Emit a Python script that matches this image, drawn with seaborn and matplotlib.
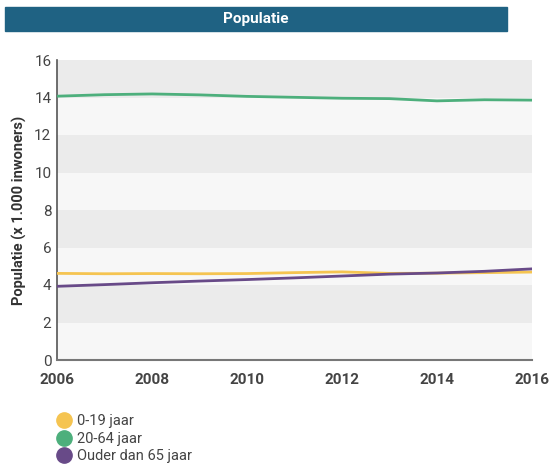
import matplotlib
matplotlib.use("Agg")
import matplotlib.pyplot as plt
import seaborn as sns
import pandas as pd
from matplotlib.lines import Line2D

years = list(range(2006, 2017))
age_0_19 = [4.62, 4.60, 4.61, 4.60, 4.61, 4.66, 4.70, 4.62, 4.63, 4.66, 4.69]
age_20_64 = [14.07, 14.15, 14.19, 14.14, 14.06, 14.01, 13.96, 13.94, 13.82, 13.88, 13.86]
age_65plus = [3.93, 4.02, 4.12, 4.21, 4.29, 4.38, 4.48, 4.58, 4.64, 4.73, 4.86]
series_names = ["0-19 jaar", "20-64 jaar", "Ouder dan 65 jaar"]
colors = ["#f5c451", "#4daf7c", "#684a88"]
yticks = [0, 2, 4, 6, 8, 10, 12, 14, 16]
xticks = [2006, 2008, 2010, 2012, 2014, 2016]
title = "Populatie"
ylabel = "Populatie (x 1.000 inwoners)"

df = pd.DataFrame({
    "jaar": years * 3,
    "waarde": age_0_19 + age_20_64 + age_65plus,
    "groep": [series_names[0]] * len(years) + [series_names[1]] * len(years) + [series_names[2]] * len(years),
})

sns.set_style("white")
plt.rcParams["font.family"] = ["Roboto", "DejaVu Sans"]

fig = plt.figure(figsize=(5.5, 4.75), dpi=100)
ax = fig.add_axes([57/550, 1 - 360/475, (532-57)/550, 300/475])

# alternating bands
for i in range(len(yticks) - 1):
    c = "#f7f7f7" if i % 2 == 0 else "#ebebeb"
    ax.axhspan(yticks[i], yticks[i+1], color=c, zorder=0, lw=0)

sns.lineplot(data=df, x="jaar", y="waarde", hue="groep", palette=colors,
             linewidth=2, ax=ax, legend=False, zorder=3)

ax.set_xlim(2006, 2016)
ax.set_ylim(0, 16)
ax.set_yticks(yticks)
ax.set_xticks(xticks)
ax.set_yticklabels([str(t) for t in yticks], fontsize=11, color="#444444")
ax.set_xticklabels([str(t) for t in xticks], fontsize=11, fontweight="bold", color="#444444")
ax.tick_params(axis="y", pad=4, length=0)
ax.tick_params(axis="x", pad=9, length=0)
ax.set_xlabel("")
ax.set_ylabel(ylabel, fontsize=10.5, fontweight="bold", color="#333333", labelpad=5)
for s in ["top", "right"]:
    ax.spines[s].set_visible(False)
ax.spines["left"].set_color("#555555")
ax.spines["bottom"].set_color("#777777")
ax.spines["left"].set_linewidth(1.2)
ax.spines["bottom"].set_linewidth(1.5)

# title bar
fig.patches.append(plt.Rectangle((5/550, 1 - 31/475), 502/550, 24/475,
                                 transform=fig.transFigure, color="#1f6283", zorder=0))
fig.text(256/550, 1 - 19/475, title, ha="center", va="center", color="white",
         fontsize=11, fontweight="bold")

handles = [Line2D([0], [0], marker="o", color="none", markerfacecolor=c,
                  markeredgecolor=c, markersize=11) for c in colors]
fig.legend(handles, series_names, loc="upper left", bbox_to_anchor=(55/550, 1 - 414/475),
           frameon=False, fontsize=10.5, handletextpad=0.3, labelspacing=0.25,
           handlelength=1.2, borderaxespad=0, borderpad=0, labelcolor="#444444")

fig.savefig("out.png", dpi=100)
